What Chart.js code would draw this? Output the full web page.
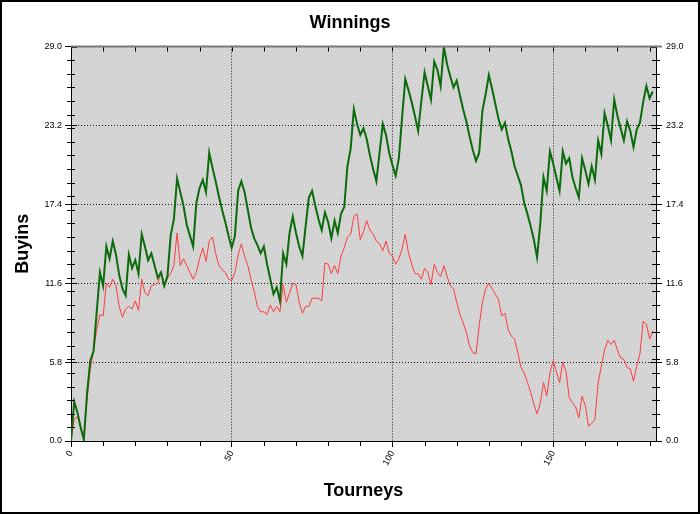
<!DOCTYPE html>
<html>
<head>
<meta charset="utf-8">
<title>Winnings</title>
<script src="https://cdn.jsdelivr.net/npm/chart.js@4/dist/chart.umd.min.js"></script>
<style>
  html, body { margin: 0; padding: 0; background: #fff; }
  canvas { display: block; }
</style>
</head>
<body>
<canvas id="chart_winnings" width="700" height="514"></canvas>
<script>
// Datos (buyins acumulados por torneo)

// Serie verde (gruesa)
const winnings = [
  0, 2.9, 2.1, 1.0, 0.1, 3.5, 5.9, 6.6, 9.5, 12.4,
  11.4, 14.3, 13.4, 14.7, 13.7, 12.2, 11.2, 10.7, 13.7, 12.7,
  13.3, 12.3, 15.2, 14.3, 13.3, 13.8, 12.9, 12.0, 12.4, 11.4,
  12.1, 15.1, 16.3, 19.3, 18.3, 17.3, 15.9, 15.1, 14.3, 17.5,
  18.6, 19.2, 18.3, 21.2, 20.1, 19.1, 18.0, 17.0, 16.1, 15.1,
  14.2, 15.1, 18.4, 19.1, 18.3, 17.0, 15.7, 14.9, 14.4, 13.8,
  14.3, 13.0, 11.9, 10.8, 11.3, 10.3, 13.8, 13.0, 15.3, 16.5,
  15.3, 14.3, 13.6, 15.8, 17.9, 18.4, 17.3, 16.3, 15.5, 16.8,
  16.1, 14.9, 16.2, 15.3, 16.7, 17.2, 20.2, 21.5, 24.4, 23.3,
  22.5, 23.0, 22.2, 21.0, 20.0, 19.1, 21.2, 23.3, 22.5, 21.2,
  20.3, 19.5, 20.8, 23.8, 26.6, 25.8, 24.9, 23.9, 22.8, 25.0,
  27.1, 26.1, 25.1, 27.9, 27.3, 26.1, 29.0, 27.7, 26.8, 26.0,
  26.5, 25.4, 24.4, 23.5, 22.4, 21.4, 20.6, 21.2, 24.3, 25.5,
  26.9, 25.9, 24.8, 23.7, 22.9, 23.4, 22.2, 21.3, 20.2, 19.5,
  18.8, 17.5, 16.7, 15.8, 14.8, 13.5, 16.0, 19.4, 18.4, 21.3,
  20.4, 19.4, 18.4, 21.3, 20.4, 20.8, 19.4, 18.6, 17.9, 20.8,
  19.9, 18.9, 20.2, 19.2, 22.1, 21.1, 24.1, 23.2, 22.1, 25.1,
  23.9, 23.0, 22.1, 23.5, 22.8, 21.6, 22.9, 23.4, 24.9, 26.1,
  25.2, 25.7
];

// Serie roja (fina)
const expected = [
  0, 1.6, 1.8, 1.1, 0.2, 3.1, 5.3, 6.6, 8.2, 9.3,
  9.2, 11.6, 11.3, 11.9, 11.4, 9.9, 9.1, 9.7, 9.9, 9.7,
  10.3, 9.6, 11.9, 10.9, 10.7, 11.4, 11.5, 11.6, 12.4, 11.6,
  12.0, 12.3, 12.9, 15.3, 12.9, 13.4, 12.9, 12.4, 11.9, 12.4,
  13.4, 14.2, 13.2, 14.7, 15.0, 13.8, 12.9, 12.6, 12.4, 11.9,
  11.8, 12.4, 13.7, 14.5, 13.6, 12.9, 11.9, 11.0, 9.9, 9.5,
  9.5, 9.3, 10.0, 9.5, 9.9, 9.5, 11.5, 10.2, 10.9, 11.6,
  11.5, 10.2, 9.4, 9.9, 9.9, 10.5, 10.5, 10.5, 10.3, 13.1,
  13.0, 12.3, 12.9, 12.3, 13.6, 14.2, 15.0, 15.2, 16.5, 16.7,
  14.8, 15.4, 16.2, 15.5, 15.2, 14.7, 14.5, 14.0, 14.7, 13.8,
  13.6, 13.0, 13.4, 14.1, 15.2, 13.8, 13.0, 12.3, 12.3, 11.9,
  12.7, 12.4, 11.5, 13.0, 12.4, 12.1, 12.9, 12.1, 11.4, 11.2,
  10.2, 9.3, 8.7, 8.0, 7.0, 6.5, 6.4, 8.5, 10.2, 11.2,
  11.6, 11.2, 10.8, 10.4, 9.2, 9.4, 8.2, 7.7, 7.5, 6.5,
  5.4, 5.0, 4.3, 3.6, 2.7, 2.0, 2.8, 4.3, 3.3, 5.0,
  5.9, 5.1, 4.3, 5.8, 5.1, 3.2, 2.8, 2.5, 1.7, 3.3,
  2.6, 1.1, 1.3, 1.6, 4.3, 5.5, 6.7, 7.4, 7.1, 7.4,
  6.7, 6.1, 6.0, 5.4, 5.3, 4.4, 5.5, 6.4, 8.8, 8.6,
  7.5, 8.1
];

// Número de torneo (eje X)
const tourneys = winnings.map((_, i) => i);

// Marcas de los ejes
const xTicks = [0, 50, 100, 150];
const xMinorTicks = [10, 20, 30, 40, 60, 70, 80, 90, 110, 120, 130, 140, 160, 170, 180];
const yTicks = [0, 5.8, 11.6, 17.4, 23.2, 29.0];
const yMinorTicks = [1, 2, 3, 4, 5, 6, 7, 8, 9, 10, 11, 12, 13, 14, 15, 16, 17, 18, 19, 20,
  21, 22, 23, 24, 25, 26, 27, 28];

// Fondo punteado gris del área de trazado
function makePattern() {
  const c = document.createElement('canvas');
  c.width = 4; c.height = 4;
  const g = c.getContext('2d');
  g.fillStyle = '#d1d1d1';
  g.fillRect(0, 0, 4, 4);
  g.fillStyle = '#e6e6e6';
  g.fillRect(0, 0, 1, 1);
  g.fillRect(2, 2, 1, 1);
  return g.createPattern(c, 'repeat');
}

const plotBackground = {
  id: 'plotBackground',
  beforeDraw(chart) {
    const { ctx, chartArea: a } = chart;
    ctx.save();
    ctx.fillStyle = '#ffffff';
    ctx.fillRect(0, 0, chart.width, chart.height);
    ctx.fillStyle = makePattern();
    ctx.fillRect(a.left, a.top, a.right - a.left, a.bottom - a.top);
    ctx.restore();
  }
};

// Marcas menores, borde superior y marco exterior
const axisExtras = {
  id: 'axisExtras',
  afterDraw(chart) {
    const { ctx, chartArea: a, scales } = chart;
    ctx.save();
    ctx.strokeStyle = '#000';
    ctx.lineWidth = 1;
    ctx.beginPath();
    yMinorTicks.forEach(v => {
      const py = Math.round(scales.y.getPixelForValue(v)) + 0.5;
      ctx.moveTo(a.left - 4, py); ctx.lineTo(a.left + 4, py);
      ctx.moveTo(a.right - 4, py); ctx.lineTo(a.right + 4, py);
    });
    yTicks.forEach(v => {
      const py = Math.round(scales.y.getPixelForValue(v)) + 0.5;
      ctx.moveTo(a.left, py); ctx.lineTo(a.left + 6, py);
      ctx.moveTo(a.right - 6, py); ctx.lineTo(a.right, py);
    });
    xMinorTicks.forEach(v => {
      const px = Math.round(scales.x.getPixelForValue(v)) + 0.5;
      ctx.moveTo(px, a.bottom); ctx.lineTo(px, a.bottom + 5);
      ctx.moveTo(px, a.top); ctx.lineTo(px, a.top + 5);
    });
    xTicks.forEach(v => {
      const px = Math.round(scales.x.getPixelForValue(v)) + 0.5;
      ctx.moveTo(px, a.top); ctx.lineTo(px, a.top + 5);
    });
    ctx.stroke();

    // borde superior gris
    ctx.strokeStyle = '#7a7a7a';
    ctx.lineWidth = 2;
    ctx.beginPath();
    ctx.moveTo(a.left, a.top);
    ctx.lineTo(a.right + 6, a.top);
    ctx.stroke();

    // marco negro de la imagen
    ctx.strokeStyle = '#000';
    ctx.lineWidth = 2;
    ctx.strokeRect(1, 1, chart.width - 2, chart.height - 2);
    ctx.restore();
  }
};

const tickFont = { family: 'Arial, "Liberation Sans", sans-serif', size: 9 };
const titleFont = { family: 'Arial, "Liberation Sans", sans-serif', size: 18, weight: 'bold' };

const ctx = document.getElementById('chart_winnings').getContext('2d');

const chartWinnings = new Chart(ctx, {
  type: 'line',
  data: {
    labels: tourneys,
    datasets: [{
      label: 'Winnings',
      data: winnings,
      borderColor: '#0b6b0b',
      borderWidth: 2,
      pointRadius: 0,
      fill: false,
      tension: 0
    }, {
      label: 'Expected',
      data: expected,
      borderColor: '#ff3c3c',
      borderWidth: 1,
      pointRadius: 0,
      fill: false,
      tension: 0
    }]
  },
  options: {
    responsive: false,
    animation: false,
    events: [],
    layout: { padding: 0 },
    plugins: {
      legend: { display: false },
      tooltip: { enabled: false },
      title: {
        display: true,
        text: 'Winnings',
        color: '#000',
        font: titleFont,
        padding: { top: 12, bottom: 13 }
      }
    },
    scales: {
      x: {
        type: 'linear',
        min: 0,
        max: 182,
        afterBuildTicks: s => { s.ticks = xTicks.map(v => ({ value: v })); },
        afterFit: s => { s.height = 73; },
        ticks: {
          autoSkip: false,
          minRotation: 62,
          maxRotation: 62,
          padding: 2,
          color: '#000',
          font: tickFont
        },
        grid: {
          color: c => (c.tick && c.tick.value === 0) ? 'rgba(0,0,0,0)' : '#1a1a1a',
          tickColor: '#000',
          tickLength: 6
        },
        border: { display: true, color: '#000', width: 1, dash: [1, 2] },
        title: {
          display: true,
          text: 'Tourneys',
          color: '#000',
          font: titleFont,
          padding: { top: 2, bottom: 12 }
        }
      },
      y: {
        type: 'linear',
        position: 'left',
        min: 0,
        max: 29,
        afterBuildTicks: s => { s.ticks = yTicks.map(v => ({ value: v })); },
        afterFit: s => { s.width = 71; },
        ticks: {
          padding: 3,
          color: '#000',
          font: tickFont,
          callback: v => Number(v).toFixed(1)
        },
        grid: {
          color: c => (c.tick && (c.tick.value === 0 || c.tick.value === 29)) ? 'rgba(0,0,0,0)' : '#1a1a1a',
          tickColor: '#000',
          tickLength: 6
        },
        border: { display: true, color: '#000', width: 1, dash: [1, 2] },
        title: {
          display: true,
          text: 'Buyins',
          color: '#000',
          font: titleFont,
          padding: { top: 12, bottom: 0 }
        }
      },
      y2: {
        type: 'linear',
        position: 'right',
        min: 0,
        max: 29,
        afterBuildTicks: s => { s.ticks = yTicks.map(v => ({ value: v })); },
        afterFit: s => { s.width = 44; },
        ticks: {
          padding: 4,
          color: '#000',
          font: tickFont,
          callback: v => Number(v).toFixed(1)
        },
        grid: {
          drawOnChartArea: false,
          tickColor: '#000',
          tickLength: 6
        },
        border: { display: true, color: '#000', width: 1 }
      }
    }
  },
  plugins: [plotBackground, axisExtras]
});
</script>
</body>
</html>
